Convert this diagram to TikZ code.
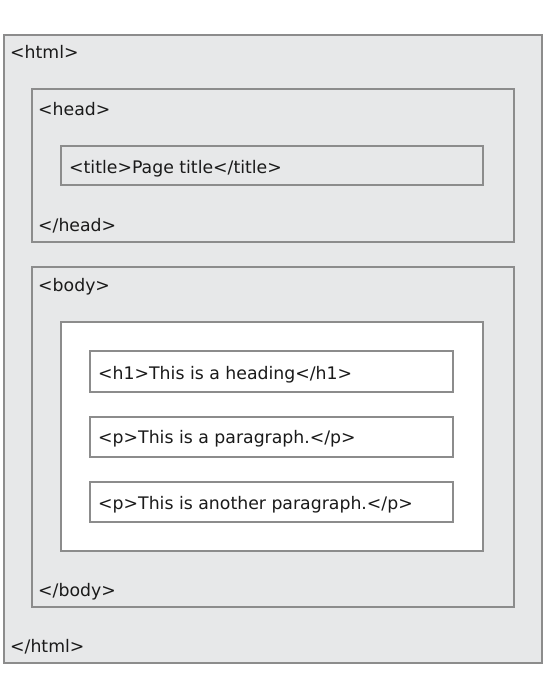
\documentclass[tikz,border=0pt]{standalone}
\usepackage{fontspec}
\setmainfont{DejaVu Sans}
\usepackage{tikz}
\definecolor{boxgray}{HTML}{E7E8E9}
\definecolor{linegray}{HTML}{8C8C8C}
\definecolor{tagtext}{HTML}{1A1A1A}
\tikzset{
  tagbox/.style={draw=linegray, line width=1.1pt, fill=boxgray},
  whitebox/.style={draw=linegray, line width=1.1pt, fill=white},
  tag/.style={anchor=base west, inner sep=0pt, text=tagtext, font=\fontsize{17.3}{20}\selectfont}
}
\begin{document}
\begin{tikzpicture}[x=1pt,y=-1pt]
				\useasboundingbox (0,0) rectangle (546,683);
				
				% outer and head part
				\filldraw[tagbox] (4,35) rectangle (542,663);
				\filldraw[tagbox] (32,89) rectangle (514,242);
				\filldraw[tagbox] (61,146) rectangle (483,185);
				
				% body part
				\filldraw[tagbox] (32,267) rectangle (514,607);
				\filldraw[whitebox] (61,322) rectangle (483,551);
				\filldraw[whitebox] (90,351) rectangle (453,392);
				\filldraw[whitebox] (90,417) rectangle (453,457);
				\filldraw[whitebox] (90,482) rectangle (453,522);
				
				\node[tag] (htmlopen) at (10,58) {<html>};
				\node[tag] (headopen) at (38,115) {<head>};
				\node[tag] (title) at (69,173) {<title>Page title</title>};
				\node[tag] (headclose) at (38,231) {</head>};
				\node[tag] (bodyopen) at (38,291) {<body>};
				\node[tag] (heading) at (98,379) {<h1>This is a heading</h1>};
				\node[tag] (para) at (98,443) {<p>This is a paragraph.</p>};
				\node[tag] (paratwo) at (98,509) {<p>This is another paragraph.</p>};
				\node[tag] (bodyclose) at (38,596) {</body>};
				\node[tag] (htmlclose) at (10,652) {</html>};
			\end{tikzpicture}
\end{document}
